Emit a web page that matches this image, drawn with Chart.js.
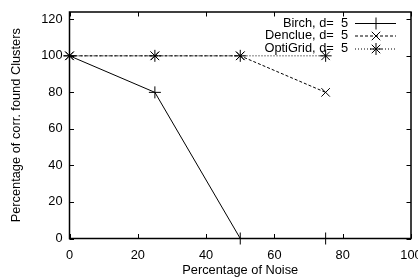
<!DOCTYPE html>
<html>
<head>
<meta charset="utf-8">
<script src="https://cdn.jsdelivr.net/npm/chart.js@4/dist/chart.umd.min.js"></script>
<style>
  html, body { margin: 0; padding: 0; background: #fff; }
  #wrap { width: 418px; height: 277px; }
</style>
</head>
<body>
<div id="wrap"><canvas id="c" width="418" height="277"></canvas></div>
<script>
const noise = [0, 25, 50, 75];
const birch = [100, 80, 0, 0];
const denclue = [100, 100, 100, 80];
const optigrid = [100, 100, 100, 100];
const xTicks = [0, 20, 40, 60, 80, 100];
const yTicks = [0, 20, 40, 60, 80, 100, 120];
const seriesNames = ['Birch, d=  5', 'Denclue, d=  5', 'OptiGrid, d=  5'];
const xTitle = 'Percentage of Noise';
const yTitle = 'Percentage of corr. found Clusters';

const FONT = 'Liberation Sans, Arial, Helvetica, sans-serif';
const FS = 12.8;
const styles = [
  { point: 'cross', dash: [] },
  { point: 'crossRot', dash: [3, 2] },
  { point: 'star', dash: [1, 2] }
];
const seriesVals = [birch, denclue, optigrid];

const datasets = seriesVals.map((vals, i) => ({
  label: seriesNames[i],
  data: noise.map((x, j) => ({ x: x, y: vals[j] })),
  showLine: true,
  borderColor: '#000',
  backgroundColor: '#000',
  borderWidth: 1,
  borderDash: styles[i].dash,
  pointStyle: styles[i].point,
  pointRadius: 6,
  pointBorderWidth: 1,
  pointBorderColor: '#000',
  clip: false
}));

function drawMarker(ctx, style, x, y, r) {
  ctx.save();
  ctx.setLineDash([]);
  ctx.strokeStyle = '#000';
  ctx.lineWidth = 1;
  ctx.beginPath();
  if (style === 'cross' || style === 'star') {
    ctx.moveTo(x - r, y); ctx.lineTo(x + r, y);
    ctx.moveTo(x, y - r); ctx.lineTo(x, y + r);
  }
  if (style === 'crossRot' || style === 'star') {
    const d = r * Math.SQRT1_2;
    ctx.moveTo(x - d, y - d); ctx.lineTo(x + d, y + d);
    ctx.moveTo(x - d, y + d); ctx.lineTo(x + d, y - d);
  }
  ctx.stroke();
  ctx.restore();
}

const framePlugin = {
  id: 'frame',
  afterDatasetsDraw(chart) {
    const { ctx, chartArea: a, scales } = chart;
    ctx.save();
    ctx.strokeStyle = '#000';
    ctx.lineWidth = 1.5;
    ctx.setLineDash([]);
    ctx.strokeRect(a.left, a.top, a.right - a.left, a.bottom - a.top);
    ctx.lineWidth = 1;
    ctx.beginPath();
    const tl = 4.5;
    xTicks.forEach(v => {
      const px = Math.round(scales.x.getPixelForValue(v)) + 0.5;
      ctx.moveTo(px, a.bottom); ctx.lineTo(px, a.bottom - tl);
      ctx.moveTo(px, a.top); ctx.lineTo(px, a.top + tl);
    });
    yTicks.forEach(v => {
      const py = Math.round(scales.y.getPixelForValue(v)) + 0.5;
      ctx.moveTo(a.left, py); ctx.lineTo(a.left + tl, py);
      ctx.moveTo(a.right, py); ctx.lineTo(a.right - tl, py);
    });
    ctx.stroke();

    // legend (gnuplot style)
    const textRight = 348, lx0 = 355, lx1 = 396, mx = 376;
    const rows = [23, 35.5, 48.5];
    ctx.font = FS + 'px ' + FONT;
    ctx.fillStyle = '#000';
    ctx.textAlign = 'right';
    ctx.textBaseline = 'middle';
    seriesNames.forEach((name, i) => {
      const y = rows[i];
      ctx.fillText(name, textRight, y);
      ctx.save();
      ctx.lineWidth = 1;
      ctx.setLineDash(styles[i].dash);
      ctx.beginPath();
      ctx.moveTo(lx0, y + 0.5); ctx.lineTo(lx1, y + 0.5);
      ctx.stroke();
      ctx.restore();
      drawMarker(ctx, styles[i].point, mx, y + 0.5, 6);
    });
    ctx.restore();
  }
};

new Chart(document.getElementById('c'), {
  type: 'scatter',
  data: { datasets: datasets },
  options: {
    responsive: false,
    animation: false,
    events: [],
    layout: { padding: { top: 12, right: 5, left: 0, bottom: 0 } },
    plugins: { legend: { display: false }, tooltip: { enabled: false } },
    scales: {
      x: {
        type: 'linear',
        min: 0, max: 100,
        afterBuildTicks: s => { s.ticks = xTicks.map(v => ({ value: v })); },
        afterFit: s => { s.height = 38.5; s.paddingLeft = 0; s.paddingRight = 0; },
        grid: { display: false, drawTicks: false },
        border: { display: false },
        ticks: { color: '#000', font: { family: FONT, size: FS }, padding: 9, maxRotation: 0, autoSkip: false },
        title: { display: true, text: xTitle, color: '#000', font: { family: FONT, size: FS }, padding: { top: 0, bottom: -1 } }
      },
      y: {
        type: 'linear',
        min: 0, max: 124,
        afterBuildTicks: s => { s.ticks = yTicks.map(v => ({ value: v })); },
        afterFit: s => { s.width = 69.5; s.paddingTop = 0; s.paddingBottom = 0; },
        grid: { display: false, drawTicks: false },
        border: { display: false },
        ticks: { color: '#000', font: { family: FONT, size: FS }, padding: 7, autoSkip: false },
        title: { display: true, text: yTitle, color: '#000', font: { family: FONT, size: FS }, padding: { top: 9, bottom: 0 } }
      }
    }
  },
  plugins: [framePlugin]
});
</script>
</body>
</html>
